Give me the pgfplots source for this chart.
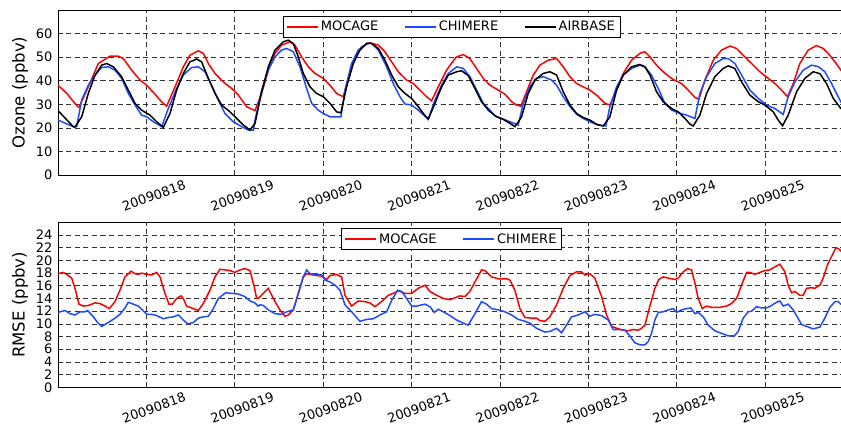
\documentclass[border=0pt]{standalone}
\usepackage{fontspec}
\setmainfont{DejaVu Sans}
\usepackage{pgfplots}
\pgfplotsset{compat=1.18}

\definecolor{mred}{RGB}{255,0,0}
\definecolor{mblue}{RGB}{30,75,255}

\pgfplotsset{
  legend image code/.code={%
    \path (-4pt,0pt) -- (27pt,0pt);
    \draw[#1] (0pt,0pt) -- (19pt,0pt);},
  panel/.style={
    scale only axis, width=784pt, height=165pt,
    xmin=0, xmax=8.87,
    xtick={1,...,8},
    xticklabels={20090818,20090819,20090820,20090821,20090822,20090823,20090824,20090825},
    xmajorgrids, ymajorgrids,
    major grid style={black!80, dash pattern=on 5pt off 3.5pt, line width=0.6pt},
    tick style={draw=none},
    axis line style={line width=0.8pt},
    ticklabel style={font=\fontsize{13}{15}\selectfont},
    /pgf/number format/assume math mode=true,
    xticklabel style={rotate=20, anchor=center, yshift=-22pt},
    yticklabel style={xshift=-2pt},
    label style={font=\fontsize{16.5}{19}\selectfont},
    ylabel style={at={(axis description cs:-0.0485,0.5)}, anchor=center},
    legend columns=-1,
    legend cell align=left,
    legend style={at={(axis description cs:0.502,1)}, anchor=north, yshift=-6pt,
      font=\fontsize{13}{15}\selectfont, inner ysep=3pt,
      /tikz/every even column/.append style={column sep=24pt}},
  }
}

\begin{document}
\begin{tikzpicture}
\path[use as bounding box] (0,0) rectangle (841pt,429pt);

% ozone
\begin{axis}[panel, at={(58pt,254pt)}, anchor=south west,
  ymin=0, ymax=70, ytick={0,10,...,60},
  ylabel={Ozone (ppbv)}]
\addplot[color=mred, line width=1.5pt] coordinates {
(0,38.1)(0.1,34.6)(0.21,29.5)(0.238,28.7)(0.343,37.4)(0.456,47.3)(0.588,50.4)(0.683,50.4)(0.739,49.4)(0.833,44.5)(0.928,40.3)(1.003,38.1)(1.097,34.3)(1.173,31)(1.229,29.2)(1.324,37.4)(1.418,45.9)(1.493,50.8)(1.587,52.7)(1.644,51.6)(1.701,47.3)(1.776,43.1)(1.87,39.5)(1.965,36.7)(2.04,33.9)(2.134,29)(2.228,27.3)
(2.304,34.6)(2.379,44.4)(2.455,51.6)(2.53,55.1)(2.624,56.5)(2.681,55.1)(2.756,50.1)(2.832,45.9)(2.907,43.1)(3.002,41)(3.077,38.1)(3.152,34.6)(3.228,33.2)(3.284,41)(3.36,50.1)(3.435,54.4)(3.529,56.1)(3.624,55.1)(3.699,52.3)(3.775,48)(3.85,43.8)(3.944,40.3)(4.02,38.8)(4.095,36)(4.171,33.2)(4.227,31.5)(4.302,37.4)(4.397,44.5)(4.491,49.4)
(4.51,50.1)(4.585,51.1)(4.66,49.4)(4.736,45.2)(4.811,41)(4.887,38.1)(4.981,36)(5.056,34.3)(5.132,31.1)(5.188,29.7)(5.237,29.2)(5.301,35.3)(5.377,42.4)(5.452,46.6)(5.546,48.7)(5.641,49.4)(5.716,45.9)(5.792,41.7)(5.867,38.8)(5.942,37.4)(6.018,36)(6.093,33.9)(6.187,30.4)(6.244,29.7)(6.319,36)(6.395,43.1)(6.489,48.7)(6.583,51.6)(6.64,52.3)
(6.697,50.1)(6.772,46.6)(6.866,43.1)(6.961,40.5)(7.055,38.8)(7.13,36)(7.206,32.9)(7.251,32.1)(7.319,40.3)(7.413,48.7)(7.507,53)(7.602,54.7)(7.677,53.7)(7.752,50.8)(7.847,47.3)(7.941,43.8)(8.035,41)(8.111,38.8)(8.186,36)(8.254,33.2)(8.318,38.8)(8.393,47.3)(8.488,53)(8.582,54.9)(8.657,53.7)(8.714,51.6)(8.79,48)(8.857,44.5)(8.87,44)
};
\addlegendentry{MOCAGE}
\addplot[color=mblue, line width=1.5pt] coordinates {
(0,23.3)(0.173,20.5)(0.211,20.5)(0.268,31.8)(0.343,38.1)(0.419,42.4)(0.494,45.6)(0.569,45.9)(0.645,44.5)(0.72,41)(0.796,34.6)(0.871,29.7)(0.946,25.4)(1.003,24.7)(1.078,22.6)(1.173,20.5)(1.248,28.2)(1.342,36.7)(1.418,42.4)(1.512,45.6)(1.587,45.9)(1.663,43.8)(1.738,38.1)(1.814,31.8)(1.889,26.1)(1.983,22.6)(2.078,20.5)(2.153,19.1)(2.21,19)
(2.229,23.3)(2.304,36)(2.379,44.5)(2.455,50.1)(2.53,53)(2.587,53.7)(2.662,52.3)(2.738,45.9)(2.813,36.7)(2.87,30.4)(2.945,27.5)(3.002,26.1)(3.077,24.7)(3.201,24.7)(3.247,36)(3.322,47.3)(3.397,53)(3.492,55.8)(3.548,55.8)(3.624,53)(3.718,45.9)(3.793,38.8)(3.869,33.2)(3.925,30.1)(4.001,29.7)(4.076,27.5)(4.189,23.7)(4.265,31.8)(4.34,38.1)(4.416,43.1)
(4.51,45.9)(4.585,45.2)(4.66,41.7)(4.736,36)(4.811,30.4)(4.887,27.5)(4.943,25.1)(5.019,24)(5.113,22.6)(5.207,21.2)(5.264,30.4)(5.339,37.4)(5.414,41)(5.49,41.7)(5.584,40.3)(5.641,38.1)(5.716,33.2)(5.792,29)(5.867,25.8)(5.942,24)(6.018,22.6)(6.112,21.2)(6.199,20.8)(6.244,29)(6.319,37.4)(6.395,42.4)(6.489,45.2)(6.583,46.6)(6.64,45.9)
(6.715,42.4)(6.791,36.7)(6.866,30.4)(6.942,27.5)(7.017,26.4)(7.111,25.4)(7.206,24)(7.262,34.6)(7.338,41.7)(7.432,47.3)(7.526,49.4)(7.583,49.4)(7.658,47.3)(7.734,42.4)(7.828,36)(7.922,32.5)(8.016,29.7)(8.111,28.2)(8.205,25.7)(8.261,33.2)(8.337,39.5)(8.431,44.5)(8.525,46.6)(8.601,46)(8.676,43.8)(8.752,38.8)(8.827,33.2)(8.857,31)(8.87,30.5)
};
\addlegendentry{CHIMERE}
\addplot[color=black, line width=1.5pt] coordinates {
(0,27.3)(0.173,20.5)(0.192,20.3)(0.268,24.7)(0.343,34.6)(0.419,42.4)(0.494,46.6)(0.551,47.3)(0.626,45.9)(0.72,41.7)(0.796,36)(0.871,30.4)(0.946,27.5)(1.041,25.4)(1.116,22.6)(1.192,20.2)(1.267,26.1)(1.342,36)(1.418,43.1)(1.493,48)(1.569,49.2)(1.625,48)(1.701,41)(1.776,34.6)(1.851,29.7)(1.946,26.8)(2.021,24)(2.096,21.2)(2.172,19.1)
(2.229,21.9)(2.304,35.3)(2.379,45.9)(2.455,53)(2.549,56.5)(2.606,57.2)(2.662,55.8)(2.719,50.1)(2.775,43.1)(2.851,37.4)(2.926,34.6)(3.002,33.2)(3.077,30.4)(3.152,26.8)(3.201,26.4)(3.265,37.4)(3.341,47.3)(3.416,53)(3.492,55.8)(3.548,55.8)(3.624,53.7)(3.699,48.7)(3.775,42.4)(3.85,37.4)(3.925,34.6)(4.001,32.5)(4.076,29)(4.133,26.1)(4.189,23.7)(4.265,30.4)(4.34,37.4)(4.416,42.4)
(4.51,43.8)(4.566,44.2)(4.641,42.2)(4.717,36.7)(4.792,31.1)(4.868,27.5)(4.962,24.7)(5.037,23.6)(5.113,21.9)(5.17,20.5)(5.245,24.7)(5.32,34.6)(5.396,40.3)(5.49,43.1)(5.565,43.8)(5.641,42.4)(5.716,35.3)(5.792,29.7)(5.867,26.1)(5.942,24.4)(6.018,23.3)(6.093,21.5)(6.169,20.8)(6.244,24.7)(6.319,36)(6.395,42.4)(6.489,45.9)(6.583,46.9)(6.64,45.9)
(6.697,42.4)(6.772,35.3)(6.847,31.1)(6.942,28.2)(7.017,26.8)(7.093,24)(7.149,21.6)(7.187,20.8)(7.262,25.4)(7.338,34.6)(7.432,41.7)(7.526,45.2)(7.583,46.3)(7.658,45.2)(7.734,39.5)(7.828,33.9)(7.922,31.1)(7.997,29.7)(8.092,26.8)(8.148,23.3)(8.197,20.9)(8.261,25.4)(8.356,35.3)(8.45,41)(8.544,43.8)(8.62,43)(8.695,38.8)(8.771,32.5)(8.857,28.2)(8.87,28)
};
\addlegendentry{AIRBASE}
\end{axis}

% RMSE
\begin{axis}[panel, at={(58pt,41.7pt)}, anchor=south west,
  ymin=0, ymax=26, ytick={0,2,...,24},
  ylabel={RMSE (ppbv)}]
\addplot[color=mred, line width=1.5pt] coordinates {
(0,17.9)(0.06,18.1)(0.098,17.8)(0.155,17.2)(0.192,15.6)(0.238,13.1)(0.287,12.8)(0.343,12.9)(0.419,13.3)(0.475,13.2)(0.532,12.8)(0.581,12.4)(0.645,13.5)(0.701,15.3)(0.758,17.4)(0.826,18.3)(0.871,17.9)(0.909,17.8)(0.946,18.0)(1.003,17.8)(1.06,17.7)(1.116,18.1)(1.154,17.4)(1.21,14.8)(1.256,13.1)(1.293,13.1)(1.342,14)(1.391,14.4)(1.418,14)(1.455,12.8)(1.512,12.5)(1.587,12.1)(1.644,13.2)(1.719,15.3)(1.776,17.4)(1.833,18.6)(1.889,18.5)(1.946,18.4)(2.002,18.1)(2.059,18.5)(2.115,18.7)(2.172,18.4)(2.221,15.8)(2.247,14)
(2.266,14)(2.379,15.6)(2.455,13.5)(2.511,12.2)(2.568,11.2)(2.606,11.4)(2.662,12.2)(2.719,14.8)(2.775,17.4)(2.813,17.9)(2.888,17.7)(2.983,17.5)(3.039,17)(3.077,17.6)(3.152,17.8)(3.209,17.4)(3.247,14.5)(3.322,12.8)(3.397,13.6)(3.473,13.5)(3.529,13.3)(3.586,12.7)(3.661,13.5)(3.737,14.5)(3.793,14.8)(3.85,15.2)(3.925,14.8)(4.001,14.8)(4.076,15.6)(4.152,16.1)(4.208,15.1)(4.284,14.5)(4.359,14)(4.434,13.8)
(4.491,14.1)(4.547,14.4)(4.604,14.3)(4.66,15.1)(4.717,16.6)(4.792,18.5)(4.83,18.4)(4.905,17.4)(4.981,17.1)(5.075,17.1)(5.113,16.9)(5.169,15.3)(5.226,12.4)(5.282,11)(5.358,10.9)(5.414,10.9)(5.452,10.5)(5.509,10.4)(5.565,11.1)(5.641,13)(5.716,15.6)(5.792,17.6)(5.867,18.2)(5.923,18.2)(5.961,17.7)(6.018,17.9)(6.074,17.2)(6.15,14.3)(6.206,11.4)(6.263,9.6)(6.32,9.3)(6.395,9.0)(6.451,8.9)(6.508,9.1)(6.564,9.0)(6.602,9.3)(6.64,9.8)(6.67,11.4)(6.696,12.8)
(6.715,13.7)(6.753,15.6)(6.798,17)(6.847,17.4)(6.904,17.2)(6.979,17)(7.017,17.2)(7.074,18.2)(7.123,18.7)(7.168,18.5)(7.206,16.4)(7.243,14)(7.289,12.4)(7.338,12.8)(7.394,12.6)(7.488,12.6)(7.564,12.8)(7.62,13.2)(7.677,14)(7.734,16.1)(7.79,18.1)(7.828,18.1)(7.884,17.8)(7.941,18.1)(7.997,18.4)(8.054,18.5)(8.111,19)(8.167,19.4)(8.224,18.2)(8.261,16.1)(8.299,14.9)(8.337,15.1)(8.393,14.5)(8.431,14.5)(8.469,15.6)(8.525,15.7)(8.563,15.6)(8.62,16.1)(8.657,17.2)(8.706,19.3)(8.752,20.6)(8.797,21.9)(8.827,21.9)(8.857,21.5)(8.87,21.3)
};
\addlegendentry{MOCAGE}
\addplot[color=mblue, line width=1.5pt] coordinates {
(0,11.8)(0.079,12.1)(0.136,11.6)(0.192,11.4)(0.249,11.9)(0.305,11.9)(0.336,12.1)(0.4,11.1)(0.449,10.2)(0.494,9.6)(0.569,10.2)(0.645,10.9)(0.701,11.5)(0.758,12.5)(0.796,13.4)(0.852,13.1)(0.909,12.8)(0.954,12.2)(1.003,11.5)(1.06,11.5)(1.116,11.3)(1.192,10.8)(1.248,11)(1.305,11.1)(1.361,11.4)(1.418,10.6)(1.467,10)(1.531,10.2)(1.587,10.9)(1.644,11.1)(1.701,11.2)(1.757,12.4)(1.814,14)(1.897,14.9)(1.965,14.8)(2.04,14.7)(2.115,14.3)(2.172,13.6)(2.228,13.3)(2.263,12.8)
(2.285,13)(2.323,12.9)(2.379,12.2)(2.455,11.6)(2.53,11.5)(2.587,11.9)(2.662,12.2)(2.719,14.8)(2.775,17.4)(2.813,18.5)(2.851,17.9)(2.926,17.8)(2.983,17.7)(3.02,16.9)(3.077,16.6)(3.134,16.1)(3.19,15.3)(3.247,13)(3.322,11.9)(3.416,10.4)(3.492,10.7)(3.567,10.8)(3.643,11.4)(3.718,11.9)(3.775,13.7)(3.842,15.3)(3.888,15.1)(3.944,14)(4.001,12.8)(4.057,12.8)(4.152,13.1)(4.208,12.7)(4.257,11.8)(4.302,12.3)(4.359,11.9)(4.434,11.3)
(4.51,10.6)(4.585,10.1)(4.641,9.8)(4.717,11.6)(4.792,13.5)(4.849,13.1)(4.905,12.4)(4.981,12.2)(5.056,11.9)(5.132,11.4)(5.207,10.7)(5.264,10.5)(5.339,10.1)(5.414,9.3)(5.509,8.7)(5.565,8.8)(5.641,9.3)(5.697,8.6)(5.754,9.8)(5.81,11.1)(5.886,11.4)(5.961,11.9)(6.018,11.2)(6.074,11.5)(6.15,11.3)(6.225,10.6)(6.282,9.1)(6.357,9.1)(6.414,9)(6.47,8.1)(6.527,7.0)(6.583,6.7)(6.64,6.7)
(6.678,7.2)(6.715,8.5)(6.753,10.6)(6.791,11.8)(6.847,11.9)(6.904,12.2)(6.961,12.4)(6.998,11.8)(7.055,12.2)(7.111,12.4)(7.16,12.5)(7.206,11.6)(7.243,11.8)(7.3,11.1)(7.356,9.8)(7.432,8.9)(7.507,8.5)(7.583,8.1)(7.651,8.1)(7.696,8.8)(7.752,10.9)(7.809,11.9)(7.847,12)(7.903,12.7)(7.96,12.5)(8.016,12.5)(8.073,12.9)(8.129,13.4)(8.167,13.6)(8.205,12.8)(8.261,13.1)(8.318,12.2)(8.412,9.9)(8.488,9.5)(8.544,9.2)(8.62,9.5)(8.676,10.9)(8.733,12.6)(8.79,13.5)(8.827,13.5)(8.857,13.1)(8.87,13)
};
\addlegendentry{CHIMERE}
\end{axis}
\end{tikzpicture}
\end{document}
